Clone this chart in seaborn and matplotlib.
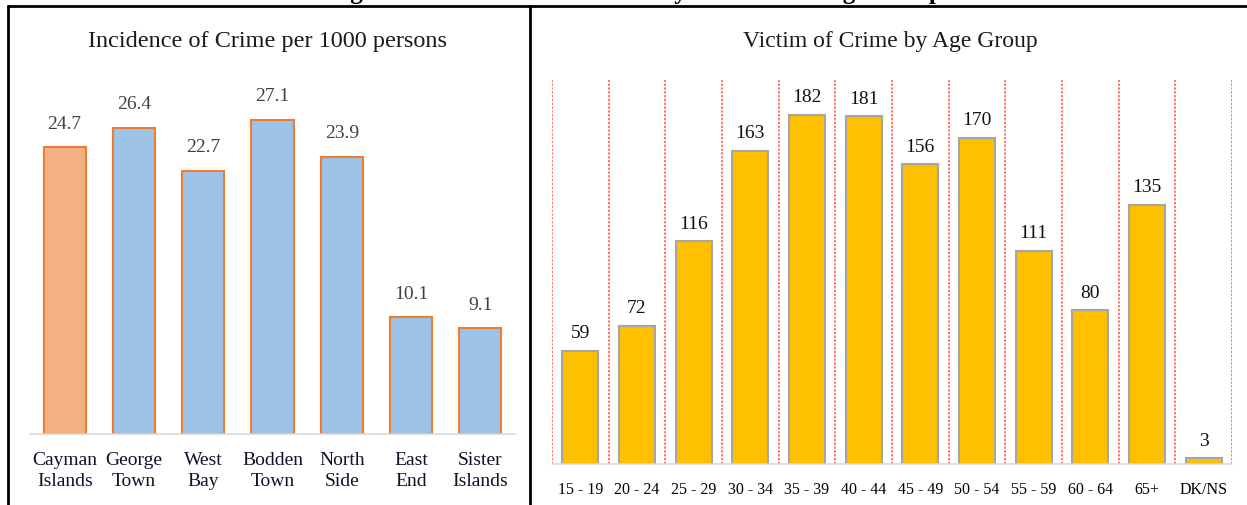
import matplotlib
matplotlib.use("Agg")
import matplotlib.pyplot as plt
from matplotlib.lines import Line2D
import pandas as pd
import seaborn as sns

# data
districts = ["Cayman\nIslands", "George\nTown", "West\nBay", "Bodden\nTown",
             "North\nSide", "East\nEnd", "Sister\nIslands"]
incidence = [24.7, 26.4, 22.7, 27.1, 23.9, 10.1, 9.1]

age_groups = ["15 - 19", "20 - 24", "25 - 29", "30 - 34", "35 - 39", "40 - 44",
              "45 - 49", "50 - 54", "55 - 59", "60 - 64", "65+", "DK/NS"]
victims = [59, 72, 116, 163, 182, 181, 156, 170, 111, 80, 135, 3]

fig_title = "Figure 3.2: Incidence of Crime by District and Age Group"
left_title = "Incidence of Crime per 1000 persons"
right_title = "Victim of Crime by Age Group"

sns.set_style("white")
plt.rcParams["font.family"] = ["Liberation Serif", "DejaVu Serif"]

W, H = 1247, 506
fig = plt.figure(figsize=(W / 100, H / 100), dpi=100)

def box(x0, y0, x1, y1):
    # pixel box (top-left origin) -> figure fraction rect
    return [x0 / W, 1 - y1 / H, (x1 - x0) / W, (y1 - y0) / H]

# ---- left panel
df1 = pd.DataFrame({"district": districts, "rate": incidence})
ax1 = fig.add_axes(box(30, 87, 515, 435))
pal1 = ["#f4b183"] + ["#9dc3e6"] * (len(districts) - 1)
sns.barplot(data=df1, x="district", y="rate", hue="district", palette=pal1,
            legend=False, width=0.61, saturation=1, edgecolor="#ed7d31",
            linewidth=1.5, ax=ax1)
ax1.set_ylim(0, 30)
ax1.set_xlim(-0.5, len(districts) - 0.5)
for i, v in enumerate(incidence):
    ax1.annotate(f"{v}", (i, v), xytext=(0, 11), textcoords="offset points",
                 ha="center", va="bottom", fontsize=14, color="#404040")
ax1.set_xlabel("")
ax1.set_ylabel("")
ax1.set_yticks([])
ax1.tick_params(axis="x", length=0, pad=12, labelsize=14, labelcolor="#10102a")
for lab in ax1.get_xticklabels():
    lab.set_linespacing(1.35)
for s in ["top", "left", "right"]:
    ax1.spines[s].set_visible(False)
ax1.spines["bottom"].set_color("#d9d9d9")
ax1.spines["bottom"].set_linewidth(1.2)
fig.text(268 / W, 1 - 42 / H, left_title, ha="center", va="center",
         fontsize=17.5, color="#1a1a1a")

# ---- right panel
df2 = pd.DataFrame({"age": age_groups, "n": victims})
ax2 = fig.add_axes(box(552, 81, 1232, 465))
sns.barplot(data=df2, x="age", y="n", color="#ffc000", width=0.63,
            saturation=1, edgecolor="#a6a6a6", linewidth=1.5, ax=ax2)
ax2.set_ylim(0, 200)
ax2.set_xlim(-0.5, len(age_groups) - 0.5)
ax2.set_xticks([i - 0.5 for i in range(len(age_groups) + 1)], minor=True)
ax2.grid(which="minor", axis="x", color="#ff3b3b", linestyle=(0, (1.5, 1)),
         linewidth=1.1, alpha=0.9)
ax2.set_axisbelow(True)
for i, v in enumerate(victims):
    ax2.annotate(f"{v}", (i, v), xytext=(0, 7), textcoords="offset points",
                 ha="center", va="bottom", fontsize=14, color="#111111")
ax2.set_xlabel("")
ax2.set_ylabel("")
ax2.set_yticks([])
ax2.tick_params(axis="x", which="both", length=0, pad=12, labelsize=11.5,
                labelcolor="black")
for s in ["top", "left", "right"]:
    ax2.spines[s].set_visible(False)
ax2.spines["bottom"].set_color("#d9d9d9")
ax2.spines["bottom"].set_linewidth(1.2)
fig.text(890 / W, 1 - 42 / H, right_title, ha="center", va="center",
         fontsize=17, color="#1a1a1a")

# ---- caption (cropped at the top in the source) and table borders
fig.text(635 / W, 1 + 1 / H, fig_title, ha="center", va="baseline",
         fontsize=18, fontweight="bold", color="black")
for xs, ys in [([8, W], [7, 7]), ([8, 8], [7, H]), ([530, 530], [7, H])]:
    fig.add_artist(Line2D([x / W for x in xs], [1 - y / H for y in ys],
                          color="black", linewidth=2))

fig.savefig("out.png", dpi=100)
